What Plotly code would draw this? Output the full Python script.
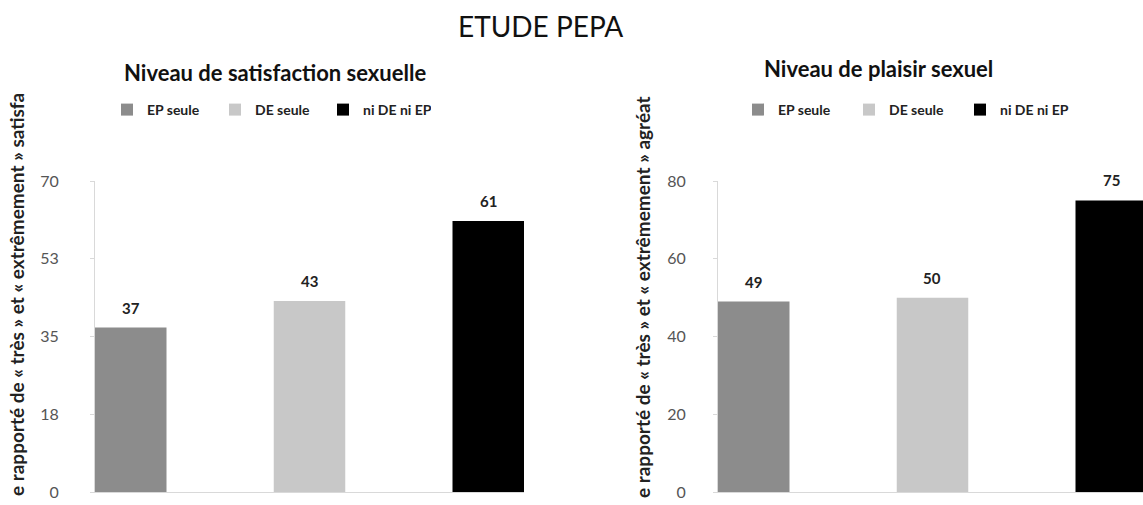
import plotly.graph_objects as go

categories = ["EP seule", "DE seule", "ni DE ni EP"]
colors = ["#8c8c8c", "#c8c8c8", "#000000"]
satisfaction = [37, 43, 61]
plaisir = [49, 50, 75]
sat_tickvals = [0, 17.5, 35, 52.5, 70]
sat_ticktext = ["0", "18", "35", "53", "70"]
pla_tickvals = [0, 20, 40, 60, 80]
pla_ticktext = ["0", "20", "40", "60", "80"]

W, H = 1143, 505
FONT = "Lato"

fig = go.Figure()
for i, c in enumerate(categories):
    fig.add_trace(go.Bar(x=[c], y=[satisfaction[i]], name=c, marker_color=colors[i],
                         marker_line_width=0, width=0.4, xaxis="x", yaxis="y",
                         legend="legend", hoverinfo="skip"))
for i, c in enumerate(categories):
    fig.add_trace(go.Bar(x=[c], y=[plaisir[i]], name=c, marker_color=colors[i],
                         marker_line_width=0, width=0.4, xaxis="x2", yaxis="y2",
                         legend="legend2", hoverinfo="skip"))

lab_font = dict(family=FONT, size=15, color="#222", weight="bold")
annotations = []
for i, c in enumerate(categories):
    annotations.append(dict(x=c, y=satisfaction[i], xref="x", yref="y", text=str(satisfaction[i]),
                            showarrow=False, yanchor="bottom", yshift=9, font=lab_font))
    annotations.append(dict(x=c, y=plaisir[i], xref="x2", yref="y2", text=str(plaisir[i]),
                            showarrow=False, yanchor="bottom", yshift=9, font=lab_font))


def paper_text(px, py, text, font, angle=0):
    return dict(x=px / W, y=1 - py / H, xref="paper", yref="paper", text=text, showarrow=False,
                xanchor="center", yanchor="middle", textangle=angle, font=font)


annotations += [
    paper_text(540, 26, "ETUDE PEPA", dict(family=FONT, size=28, color="#111")),
    paper_text(275, 72, "Niveau de satisfaction sexuelle",
               dict(family=FONT, size=22, color="#111", weight="bold")),
    paper_text(878, 68, "Niveau de plaisir sexuel",
               dict(family=FONT, size=22, color="#111", weight="bold")),
    paper_text(16, 295, "e rapporté de « très » et « extrêmement » satisfa",
               dict(family=FONT, size=19, color="#222", weight="bold"), angle=-90),
    paper_text(642, 297, "e rapporté de « très » et « extrêmement » agréat",
               dict(family=FONT, size=19, color="#222", weight="bold"), angle=-90),
]

ydom = [(H - 492) / H, (H - 181) / H]
axis_common = dict(showgrid=False, zeroline=False, showline=True, linecolor="#d9d9d9", linewidth=1,
                   automargin=False)
tickfont = dict(family=FONT, size=16, color="#555")
legend_common = dict(orientation="h", xanchor="left", yanchor="middle", bgcolor="rgba(0,0,0,0)",
                     font=dict(family=FONT, size=14, color="#222", weight="bold"),
                     entrywidthmode="pixels", itemclick=False, itemdoubleclick=False,
                     traceorder="normal")

fig.update_layout(
    width=W, height=H, margin=dict(l=0, r=0, t=0, b=0, pad=0, autoexpand=False),
    paper_bgcolor="white", plot_bgcolor="white",
    barmode="overlay", showlegend=True,
    xaxis=dict(domain=[95 / W, 524 / W], range=[-0.2, 2.2], showticklabels=False, ticks="",
               anchor="y", **axis_common),
    yaxis=dict(domain=ydom, range=[0, 70], tickvals=sat_tickvals, ticktext=sat_ticktext,
               ticks="outside", ticklen=4, tickcolor="#d9d9d9", tickfont=tickfont,
               ticklabelstandoff=28, anchor="x", **axis_common),
    xaxis2=dict(domain=[718 / W, 1.0], range=[-0.2, 2.2 - 4 / 178.75], showticklabels=False, ticks="",
                anchor="y2", **axis_common),
    yaxis2=dict(domain=ydom, range=[0, 80], tickvals=pla_tickvals, ticktext=pla_ticktext,
                ticks="outside", ticklen=4, tickcolor="#d9d9d9", tickfont=tickfont,
                ticklabelstandoff=24, anchor="x2", **axis_common),
    legend=dict(x=107 / W, y=1 - 110 / H, entrywidth=63, **legend_common),
    legend2=dict(x=738 / W, y=1 - 110 / H, entrywidth=66, **legend_common),
    annotations=annotations,
)

fig.write_html("out.html")
